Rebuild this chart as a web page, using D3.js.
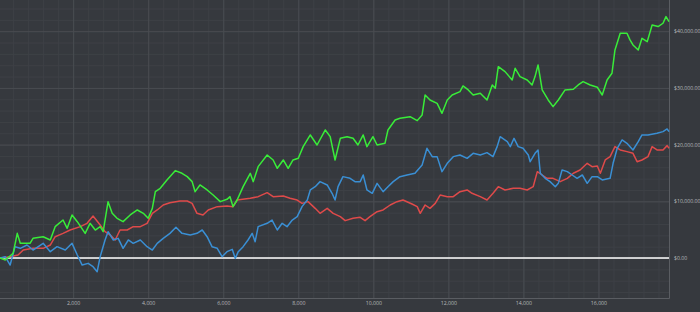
<!DOCTYPE html>
<html>
<head>
<meta charset="utf-8">
<script src="https://cdn.jsdelivr.net/npm/d3@7/dist/d3.min.js"></script>
<style>
  html, body { margin: 0; padding: 0; background: #36393e; }
  svg { display: block; }
</style>
</head>
<body>
<svg id="chart" width="700" height="312"></svg>
<script>
// tick labels
const xTicks = [2000, 4000, 6000, 8000, 10000, 12000, 14000, 16000];
const yTicks = [0, 10000, 20000, 30000, 40000];

// series values, [step, dollars]
const greenSeries = [[50,0],[190,-350],[400,820],[510,4350],[590,2590],[850,2590],[930,3470],[1200,3760],[1390,3180],[1520,5530],[1730,6700],[1840,5230],[1970,7590],[2110,6410],[2320,4350],[2450,6120],[2590,4940],[2720,5530],[2800,4650],[2930,9940],[3040,7880],[3170,7000],[3330,6410],[3520,7590],[3710,8470],[3870,7880],[4000,7000],[4110,8760],[4190,11700],[4320,12290],[4500,13760],[4720,15410],[4900,14940],[5040,14350],[5170,13470],[5250,11700],[5380,12880],[5570,12000],[5730,11110],[5920,9940],[6100,10350],[6180,10820],[6260,9060],[6370,10230],[6530,12580],[6720,14940],[6800,13470],[6930,16110],[7170,18170],[7330,17290],[7440,15820],[7600,17290],[7730,15820],[7860,17290],[8000,17580],[8130,19640],[8320,21700],[8500,19930],[8720,22580],[8850,21400],[8980,17290],[9120,21110],[9300,21400],[9460,21110],[9590,19930],[9730,21700],[9830,19640],[9990,21400],[10100,19930],[10310,20230],[10390,22580],[10580,24340],[10710,24640],[10980,24930],[11170,24230],[11300,25230],[11380,28750],[11510,27870],[11700,27280],[11830,25520],[11970,27870],[12100,28750],[12310,29340],[12390,30340],[12530,29640],[12660,28750],[12850,29050],[13030,27870],[13170,30520],[13250,29930],[13330,33750],[13510,32870],[13700,31400],[13780,33460],[13910,31990],[14100,31400],[14230,30520],[14310,31990],[14390,34050],[14500,29640],[14660,27870],[14790,26700],[14930,27870],[15110,29640],[15330,29750],[15460,30520],[15590,31110],[15780,30520],[15970,30110],[16100,28750],[16230,31400],[16360,32580],[16440,36690],[16580,39630],[16760,39630],[16840,38460],[16920,37570],[17060,36690],[17160,38750],[17300,38160],[17430,41100],[17590,40810],[17720,41400],[17800,42570],[17880,41690]];

const blueSeries = [[50,0],[190,240],[320,-1240],[450,2000],[590,1710],[770,2290],[930,1410],[1200,2590],[1390,1120],[1570,2000],[1790,1410],[1970,2590],[2110,530],[2240,-1240],[2400,-940],[2530,-1530],[2640,-2410],[2720,240],[2850,3180],[2930,4650],[3070,3180],[3200,3470],[3330,1710],[3470,3180],[3600,2590],[3790,3180],[3970,2000],[4110,1410],[4240,2590],[4400,3470],[4580,4350],[4740,5410],[4900,4350],[5120,4060],[5300,4350],[5440,4940],[5570,3760],[5700,2000],[5840,1710],[5970,240],[6100,1120],[6240,1530],[6320,-60],[6400,1120],[6530,2000],[6660,3180],[6770,4350],[6850,2880],[6930,5530],[7170,6120],[7300,6700],[7440,4940],[7570,6120],[7700,5530],[7840,6700],[7970,7290],[8100,9060],[8240,10230],[8320,12000],[8450,12580],[8580,13470],[8770,12880],[8900,11410],[8980,10230],[9060,12580],[9190,14350],[9380,14050],[9510,13470],[9650,13470],[9730,14640],[9830,12000],[9970,11410],[10100,13170],[10260,11700],[10390,12580],[10530,13470],[10710,14350],[10900,14640],[11110,14940],[11300,16410],[11430,19350],[11570,17880],[11700,17880],[11830,15230],[11970,16700],[12130,17880],[12310,18170],[12500,17580],[12660,18460],[12850,18170],[13030,18580],[13190,17880],[13300,19640],[13380,21400],[13570,20520],[13650,19640],[13750,21110],[13860,19640],[13990,19350],[14130,18170],[14180,16990],[14310,18460],[14390,19050],[14450,14940],[14580,14050],[14710,13470],[14850,12580],[14930,13170],[15030,15520],[15170,15230],[15300,14640],[15430,14050],[15570,14640],[15700,13170],[15830,14350],[15970,14350],[16100,13760],[16310,14050],[16390,16700],[16500,19350],[16630,20820],[16760,20230],[16920,19050],[17060,20520],[17160,21700],[17320,21700],[17560,21990],[17720,22290],[17830,22760],[17880,22290]];

const redSeries = [[50,0],[320,240],[530,530],[670,1410],[930,1710],[1200,1710],[1390,2290],[1520,3760],[1730,4350],[1920,4940],[2190,5530],[2370,6120],[2530,7410],[2720,5820],[2850,4650],[2990,4060],[3120,3180],[3250,4940],[3440,4940],[3600,5530],[3790,5530],[3970,6120],[4110,7880],[4240,8470],[4400,9350],[4580,9760],[4850,10060],[5040,10060],[5170,9640],[5300,7880],[5460,7590],[5600,8470],[5840,9060],[6100,9170],[6260,9060],[6370,10230],[6720,10530],[6930,10820],[7170,11530],[7330,10820],[7600,10940],[7780,10530],[7970,10230],[8100,9640],[8260,9940],[8450,8760],[8580,7880],[8770,8760],[8930,7880],[9120,7290],[9250,6590],[9460,7000],[9650,7170],[9780,6590],[9910,7290],[10100,8170],[10260,8470],[10450,9350],[10630,9940],[10790,10230],[11030,9530],[11170,9060],[11250,7880],[11380,9350],[11510,8760],[11650,9640],[11780,11110],[11970,10820],[12130,10820],[12310,11700],[12500,12000],[12630,11410],[12850,10820],[13030,10230],[13190,11410],[13330,12580],[13510,12000],[13730,12290],[13910,12290],[14100,12000],[14260,12580],[14370,15230],[14500,14640],[14630,14050],[14790,14050],[14980,13470],[15170,14050],[15330,14940],[15510,15520],[15700,16700],[15830,16110],[15970,16230],[16050,14940],[16180,17290],[16310,17880],[16440,19640],[16580,19050],[16760,18760],[16920,18460],[17030,16990],[17160,17290],[17320,17880],[17430,19640],[17560,19050],[17720,19050],[17830,19820],[17880,19350]];

const seriesList = [
  { name: "red", color: "#de4a4a", values: redSeries },
  { name: "blue", color: "#3a8fd4", values: blueSeries },
  { name: "green", color: "#39ec39", values: greenSeries }
];

const plotW = 669, plotH = 298;
const svg = d3.select("#chart");

const x = d3.scaleLinear().domain([50, 17880]).range([0, plotW]);
const y = d3.scaleLinear().domain([-7050, 45500]).range([plotH, 0]);

const g = svg.append("g");

// minor grid
g.append("g")
  .call(d3.axisLeft(y).tickValues(d3.range(-6000, 45001, 2000)).tickSize(-plotW).tickFormat(""))
  .call(s => s.select(".domain").remove())
  .selectAll("line").attr("stroke", "#3e4146").attr("stroke-width", 1);

g.append("g")
  .attr("transform", "translate(0," + plotH + ")")
  .call(d3.axisBottom(x).tickValues(d3.range(400, 17881, 400)).tickSize(-plotH).tickFormat(""))
  .call(s => s.select(".domain").remove())
  .selectAll("line").attr("stroke", "#3e4146").attr("stroke-width", 1);

// major grid
g.append("g")
  .call(d3.axisLeft(y).tickValues(yTicks).tickSize(-plotW).tickFormat(""))
  .call(s => s.select(".domain").remove())
  .selectAll("line").attr("stroke", "#494c51").attr("stroke-width", 1);

g.append("g")
  .attr("transform", "translate(0," + plotH + ")")
  .call(d3.axisBottom(x).tickValues(xTicks).tickSize(-plotH).tickFormat(""))
  .call(s => s.select(".domain").remove())
  .selectAll("line").attr("stroke", "#494c51").attr("stroke-width", 1);

// frame: bottom and right edges
g.append("path")
  .attr("d", `M0,${plotH + 0.5}H${plotW + 0.5}V0`)
  .attr("fill", "none")
  .attr("stroke", "#5a5d62")
  .attr("stroke-width", 1);

// y axis labels on the right
const fmt = d3.format("$,.2f");
g.append("g")
  .attr("transform", `translate(${plotW},0)`)
  .call(d3.axisRight(y).tickValues(yTicks).tickSize(0).tickPadding(5).tickFormat(fmt))
  .call(s => s.select(".domain").remove())
  .selectAll("text")
  .attr("fill", "#b8babd")
  .style("font", "5.2px 'Open Sans', sans-serif");

// x axis labels
g.append("g")
  .attr("transform", `translate(0,${plotH})`)
  .call(d3.axisBottom(x).tickValues(xTicks).tickSize(0).tickPadding(3.5).tickFormat(d3.format(",")))
  .call(s => s.select(".domain").remove())
  .selectAll("text")
  .attr("fill", "#b8babd")
  .style("font", "5.2px 'Open Sans', sans-serif");

// zero line
g.append("line")
  .attr("x1", 0).attr("x2", plotW)
  .attr("y1", y(0)).attr("y2", y(0))
  .attr("stroke", "#ffffff")
  .attr("stroke-width", 1.6);

const line = d3.line().x(d => x(d[0])).y(d => y(d[1]));

g.selectAll(".series")
  .data(seriesList)
  .enter()
  .append("path")
  .attr("class", "series")
  .attr("d", d => line(d.values))
  .attr("fill", "none")
  .attr("stroke", d => d.color)
  .attr("stroke-width", 1.5)
  .attr("stroke-linejoin", "round");
</script>
</body>
</html>
